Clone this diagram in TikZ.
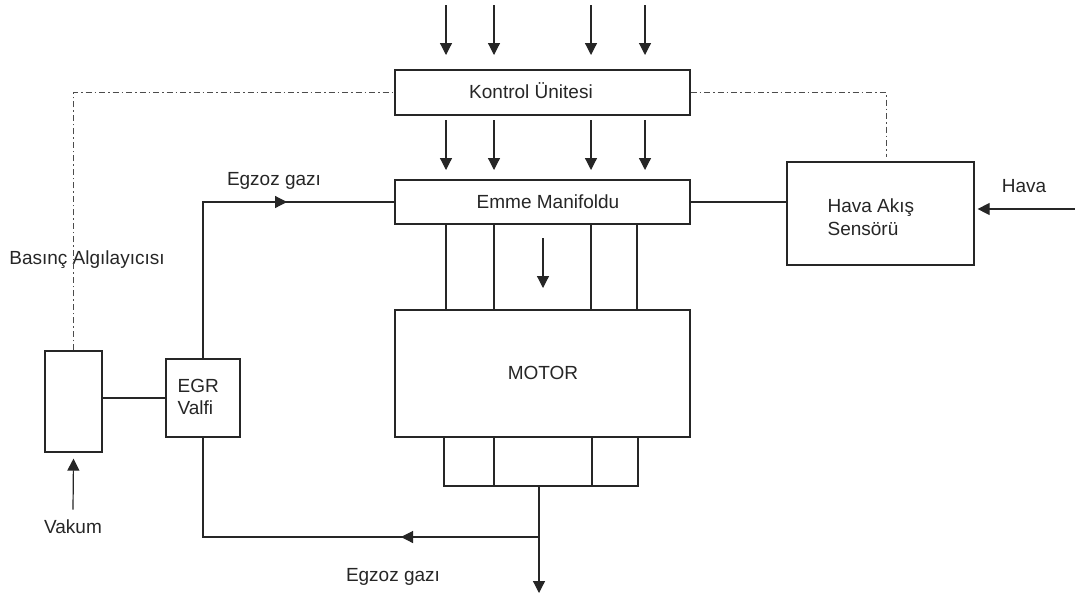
\documentclass[tikz,border=0pt]{standalone}
\usepackage{fontspec}
\setmainfont{Liberation Sans}
\usetikzlibrary{arrows.meta}
\begin{document}
\begin{tikzpicture}[x=1pt,y=-1pt,
  line width=1.2pt, color=black!85,
  box/.style={draw=black!85, line width=1.2pt, inner sep=0pt},
  lbl/.style={font=\fontsize{19}{22.5}\selectfont, text=black!85, inner sep=0pt},
  one/.style={text height=13.5pt, text depth=0pt},
  arr/.style={-{Triangle[length=12pt,width=12pt]}},
  dd/.style={draw=black!70, line width=1pt, dash pattern=on 6pt off 3pt on 1.5pt off 3pt}]
\useasboundingbox (0,0) rectangle (1075,598);
\fill[white] (0,0) rectangle (1075,598);

% boxes
\node[box, minimum width=295pt, minimum height=45pt] (ku) at (542.5,92.5) {};
\node[box, minimum width=295pt, minimum height=44pt] (em) at (542.5,202) {};
\node[box, minimum width=295pt, minimum height=127pt] (motor) at (542.5,373.5) {};
\node[box, minimum width=74pt, minimum height=78pt] (egr) at (203,398) {};
\node[box, minimum width=57pt, minimum height=101pt] (bas) at (73.5,401.5) {};
\node[box, minimum width=187pt, minimum height=103pt] (has) at (880.5,213.5) {};

% texts
\node[lbl, one] (kut) at (531,92) {Kontrol Ünitesi};
\node[lbl, one] (emt) at (548,202) {Emme Manifoldu};
\node[lbl, one] (mot) at (543,373) {MOTOR};
\node[lbl, align=left, anchor=west] (egrt) at (177,397) {EGR\\Valfi};
\node[lbl, align=left, anchor=west] (hast) at (827,217) {Hava Akış\\Sensörü};
\node[lbl, one] (eg1) at (274,179) {Egzoz gazı};
\node[lbl, one] (basl) at (87,258) {Basınç Algılayıcısı};
\node[lbl, one] (hav) at (1024,186) {Hava};
\node[lbl, one] (vak) at (73,527) {Vakum};
\node[lbl, one] (eg2) at (393,575) {Egzoz gazı};

% control signal arrows
\foreach \x in {446,494,591,645} {
  \draw[arr] (\x,5) -- (\x,55);
  \draw[arr] (\x,120) -- (\x,170);
}

% manifold runners
\foreach \x in {446,494,591,637}
  \draw (em.south -| \x,0) -- (motor.north -| \x,0);
\draw[arr] (543,238) -- (543,288);

% exhaust collector
\coordinate (c1) at (444,486);
\coordinate (c2) at (638,486);
\draw (motor.south -| c1) -- (c1) -- (c2) -- (motor.south -| c2);
\foreach \x in {494,592}
  \draw (motor.south -| \x,0) -- (c1 -| \x,0);
\coordinate (ex) at (539,486);
\coordinate (exout) at (539,593);
\coordinate (br) at (539,537);
\coordinate (brtip) at (401,537);
\draw[arr] (ex) -- (exout);
\draw (egr.south) |- (br);
\draw[arr] (br) -- (brtip);

% EGR to manifold
\coordinate (uptip) at (287,202);
\draw (egr.north) |- (em.west);
\draw[arr] (egr.north |- em.west) -- (uptip);

% sensor / valve link
\draw (egr.west -| bas.east) -- (egr.west);
\draw[arr] ([yshift=10pt]vak.north) -- ([yshift=-6pt]bas.south);

% air flow
\draw (em.east) -- (em.east -| has.west);
\coordinate (hin) at (1075,209);
\draw[arr, shorten >=3pt] (hin) -- (hin -| has.east);

% dash-dot signal lines
\coordinate (dr) at (886,157);
\draw[dd] (bas.north) |- (ku.west);
\draw[dd] (ku.east) -| (dr);
\end{tikzpicture}
\end{document}
